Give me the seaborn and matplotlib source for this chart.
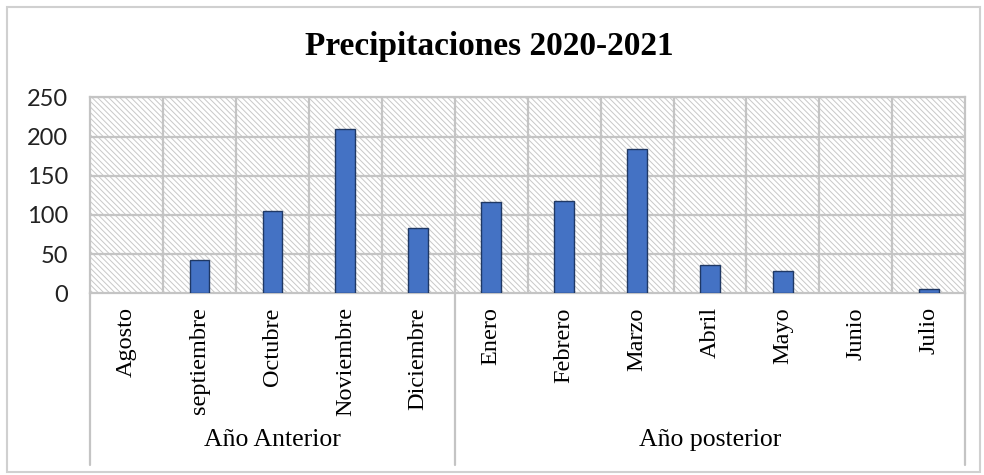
import matplotlib
matplotlib.use("Agg")
import matplotlib.pyplot as plt
from matplotlib.patches import Rectangle
from matplotlib.lines import Line2D
import seaborn as sns
import pandas as pd

# Monthly rainfall, August 2020 – July 2021
months = ["Agosto", "septiembre", "Octubre", "Noviembre", "Diciembre",
          "Enero", "Febrero", "Marzo", "Abril", "Mayo", "Junio", "Julio"]
rainfall = [0, 42, 105, 210, 83, 116, 118, 184, 36, 29, 0, 6]
groups = ["Año Anterior", "Año posterior"]
group_sizes = [5, 7]
y_ticks = [0, 50, 100, 150, 200, 250]

df = pd.DataFrame({"mes": months, "precipitacion": rainfall})

sns.set_theme(style="white")
serif = ["Liberation Serif", "DejaVu Serif"]
plt.rcParams["hatch.linewidth"] = 0.7
plt.rcParams["text.color"] = "black"
plt.rcParams["xtick.color"] = "black"
plt.rcParams["ytick.color"] = "black"
plt.rcParams["xtick.labelcolor"] = "black"
plt.rcParams["ytick.labelcolor"] = "black"

fig = plt.figure(figsize=(9.84, 4.75), dpi=100)
ax = fig.add_axes([0.0915, 0.3825, 0.8895, 0.4125])

# hatched plot background
ax.add_patch(Rectangle((0, 0), 1, 1, transform=ax.transAxes, facecolor="white",
                       edgecolor="#c8c8c8", linewidth=0, hatch="\\" * 6,
                       zorder=0))

sns.barplot(data=df, x="mes", y="precipitacion", order=months, color="#4472C4",
            edgecolor="#1F3864", linewidth=1.0, width=0.27, saturation=1, ax=ax,
            zorder=3)
for bar in ax.patches:
    if hasattr(bar, "get_height") and bar.get_height() == 0:
        bar.set_visible(False)

ax.set_xlim(-0.5, len(months) - 0.5)
ax.set_ylim(0, 250)
ax.set_yticks(y_ticks)
ax.set_yticklabels([str(t) for t in y_ticks], family=["Lato", "DejaVu Sans"],
                   fontsize=17, color="#222222")
ax.set_xticks(range(len(months)))
ax.set_xticklabels(months, rotation=90, family=serif, fontsize=17.5, va="top",
                   color="black")
ax.tick_params(axis="x", length=0, pad=10)
ax.tick_params(axis="y", length=0, pad=16)
ax.set_xlabel("")
ax.set_ylabel("")

# grid: horizontal at each tick, vertical between months
for t in y_ticks[1:]:
    ax.axhline(t, color="#c4c4c4", lw=1.6, zorder=1)
for i in range(len(months) - 1):
    ax.axvline(i + 0.5, color="#c4c4c4", lw=1.6, zorder=1)
for s in ax.spines.values():
    s.set_color("#c4c4c4")
    s.set_linewidth(1.6)

# group separators and labels below the month names
trans = ax.get_xaxis_transform()
bottom = (465 - 293.3) / 196.0
edges = [-0.5]
for n in group_sizes:
    edges.append(edges[-1] + n)
for e in edges:
    ax.add_line(Line2D([e, e], [0, -bottom], transform=trans, color="#c4c4c4",
                       lw=1.6, clip_on=False))
for g, a, b in zip(groups, edges[:-1], edges[1:]):
    ax.text((a + b) / 2, -(440 - 293.3) / 196.0, g, transform=trans,
            ha="center", va="center", family=serif, fontsize=18.5,
            color="black")

fig.text(0.497, 0.903, "Precipitaciones 2020-2021", ha="center", va="center",
         family=serif, fontsize=24, fontweight="bold", color="black")

# light frame around the chart
fig.add_artist(Rectangle((7 / 984, 3 / 475), 973 / 984, 465 / 475,
                         transform=fig.transFigure, fill=False,
                         edgecolor="#d0d0d0", lw=1.5))

fig.savefig("out.png", dpi=100)
